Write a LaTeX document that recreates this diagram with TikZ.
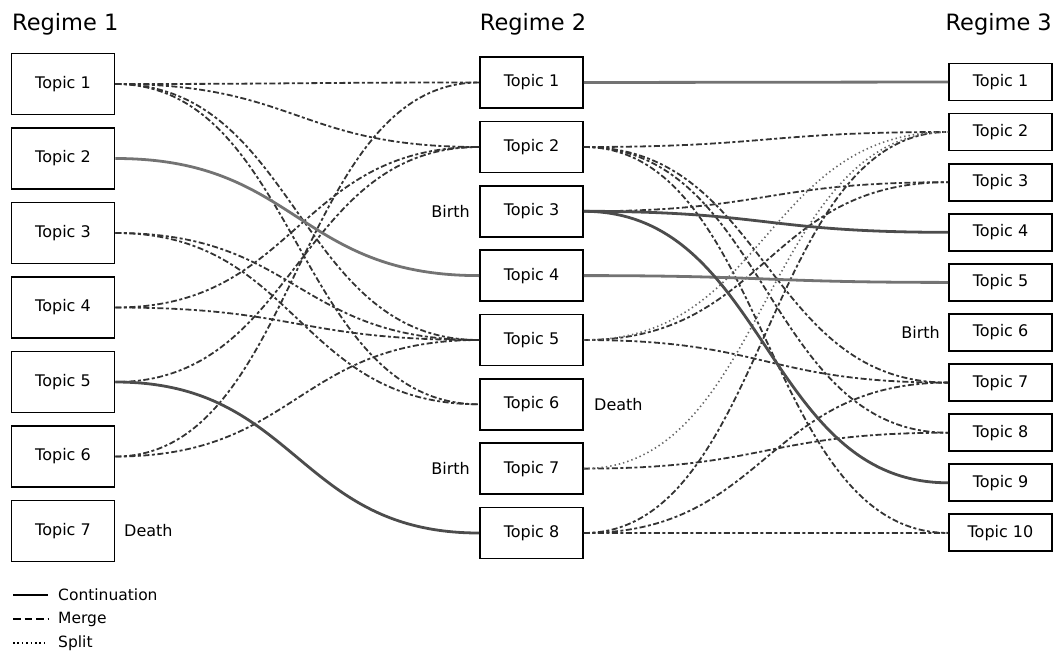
\documentclass[tikz,border=0pt]{standalone}
\usepackage{fontspec}
\setmainfont{DejaVu Sans}
\begin{document}
\begin{tikzpicture}[x=1pt,y=-1pt,
  tbox/.style={draw=black, line width=1.9pt, inner sep=0pt, font=\fontsize{16}{19}\selectfont},
  boxA/.style={tbox, minimum width=103pt, minimum height=61pt},
  boxB/.style={tbox, minimum width=103pt, minimum height=51pt},
  boxC/.style={tbox, minimum width=103pt, minimum height=37pt},
  title/.style={font=\fontsize{22.5}{26}\selectfont, inner sep=0pt},
  lbl/.style={font=\fontsize{16}{19}\selectfont, inner sep=0pt},
  cont/.style={draw=black!55, line width=2.8pt},
  contdark/.style={draw=black!70, line width=2.8pt},
  merge/.style={draw=black!80, line width=1.8pt, dash pattern=on 6pt off 2.5pt on 3pt off 2.5pt},
  split/.style={draw=black!60, line width=1.6pt, dash pattern=on 1.4pt off 3pt},
  legtext/.style={font=\fontsize{15.5}{18}\selectfont, inner sep=0pt, anchor=west}
]
\useasboundingbox (0,0) rectangle (1055,651);

% titles
\node[title, anchor=west] (reg1) at (12,24) {Regime 1};
\node[title] (reg2) at (533,24) {Regime 2};
\node[title, anchor=east] (reg3) at (1052,24) {Regime 3};

% Regime 1
\foreach \i/\y in {1/84,2/158.5,3/233,4/307.5,5/382,6/456.5,7/531}
  \node[boxA] (a\i) at (63,\y) {Topic \i};
% Regime 2
\foreach \i/\y in {1/82.5,2/147,3/211.3,4/275.6,5/340,6/404.3,7/468.6,8/533}
  \node[boxB] (b\i) at (531.5,\y) {Topic \i};
% Regime 3
\foreach \i/\y in {1/82,2/132,3/182.2,4/232.3,5/282.4,6/332.5,7/382.6,8/432.7,9/482.8,10/532.9}
  \node[boxC] (c\i) at (1000.5,\y) {Topic \i};

% birth / death labels
\node[lbl, anchor=west] (d1) at (124,531) {Death};
\node[lbl, anchor=east] (bb3) at (470,211.3) {Birth};
\node[lbl, anchor=west] (d2) at (594,404.3) {Death};
\node[lbl, anchor=east] (bb7) at (470,468.6) {Birth};
\node[lbl, anchor=east] (bc6) at (940,332.5) {Birth};

% Regime 1 -> Regime 2
\foreach \s/\t/\st in {a1/b1/merge,a1/b2/merge,a1/b5/merge,a1/b6/merge,
    a3/b5/merge,a3/b6/merge,a4/b2/merge,a4/b5/merge,a5/b2/merge,
    a6/b1/merge,a6/b5/merge,a2/b4/cont,a5/b8/contdark}
  \draw[\st] (\s.east) .. controls +(182.5,0) and +(-182.5,0) .. (\t.west);

% Regime 2 -> Regime 3
\foreach \s/\t/\st in {b2/c2/merge,b2/c7/merge,b2/c8/merge,b2/c10/merge,
    b3/c3/merge,b5/c3/merge,b5/c7/merge,b7/c8/merge,
    b8/c2/merge,b8/c7/merge,b8/c10/merge,
    b5/c2/split,b7/c2/split,
    b1/c1/cont,b4/c5/cont,b3/c4/contdark,b3/c9/contdark}
  \draw[\st] (\s.east) .. controls +(183,0) and +(-183,0) .. (\t.west);

% legend
\coordinate (l1a) at (13,595); \coordinate (l1b) at (48,595);
\coordinate (l2a) at (13,619); \coordinate (l2b) at (48,619);
\coordinate (l3a) at (13,643); \coordinate (l3b) at (48,643);
\draw[black, line width=2.8pt] (l1a) -- (l1b);
\draw[black, line width=2.5pt, dash pattern=on 7.5pt off 4pt] (l2a) -- (l2b);
\draw[black, line width=1.6pt, dash pattern=on 1.6pt off 2.8pt] (l3a) -- (l3b);
\node[legtext] (lt1) at (58,595) {Continuation};
\node[legtext] (lt2) at (58,619) {Merge};
\node[legtext] (lt3) at (58,643) {Split};
\end{tikzpicture}
\end{document}
